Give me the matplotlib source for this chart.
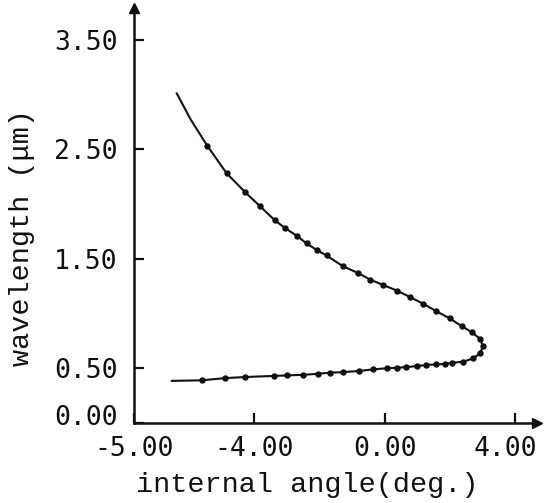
import matplotlib
matplotlib.use("Agg")
import matplotlib.pyplot as plt
from matplotlib.transforms import ScaledTranslation

# measured curve, bottom-left end -> tip -> top-left end
angle_deg = [-6.53, -5.61, -4.90, -4.29, -3.40, -2.99, -2.50, -2.04, -1.68,
             -1.28, -0.79, -0.36, 0.05, 0.36, 0.64, 0.97, 1.27, 1.56, 1.84,
             2.07, 2.40, 2.70, 2.91, 3.01, 2.91, 2.66, 2.35, 1.99, 1.58, 1.17,
             0.77, 0.36, -0.05, -0.46, -0.82, -1.28, -1.79, -2.09, -2.40,
             -2.70, -3.06, -3.37, -3.83, -4.29, -4.85, -5.44, -5.95, -6.38]
wavelength_um = [0.385, 0.39, 0.41, 0.42, 0.43, 0.435, 0.44, 0.45, 0.46,
                 0.465, 0.475, 0.49, 0.50, 0.505, 0.51, 0.52, 0.53, 0.535, 0.54,
                 0.55, 0.56, 0.59, 0.635, 0.70, 0.77, 0.83, 0.885, 0.955, 1.02,
                 1.09, 1.15, 1.21, 1.26, 1.31, 1.37, 1.43, 1.53, 1.58, 1.64,
                 1.71, 1.78, 1.85, 1.98, 2.11, 2.28, 2.53, 2.77, 3.01]

xticks = [-4.0, 0.0, 4.0]
xtick_labels = ["-4.00", "0.00", "4.00"]
yticks = [0.0, 0.5, 1.5, 2.5, 3.5]
ytick_labels = ["0.00", "0.50", "1.50", "2.50", "3.50"]
x_origin_label = "-5.00"

XMIN, XMAX = -7.69, 4.66
YMIN, YMAX = 0.0, 3.79
INK = "#111111"

fig = plt.figure(figsize=(5.45, 5.03), dpi=100)
ax = fig.add_axes([0.2459, 0.1590, 0.7394, 0.8251])

# curve with dots (endpoints have no dot)
ax.plot(angle_deg, wavelength_um, color=INK, linewidth=1.5,
        marker="o", markersize=3.6, markevery=list(range(1, len(angle_deg) - 2)))

ax.set_xlim(XMIN, XMAX)
ax.set_ylim(YMIN, YMAX)

for side in ("top", "right"):
    ax.spines[side].set_visible(False)
for side in ("left", "bottom"):
    ax.spines[side].set_linewidth(1.8)
    ax.spines[side].set_color(INK)

# arrow heads on the axes
ax.plot([1.0], [0.0], marker=">", markersize=7, color=INK,
        transform=ax.transAxes, clip_on=False)
ax.plot([0.0], [1.0], marker="^", markersize=7, color=INK,
        transform=ax.transAxes, clip_on=False)

tick_font = {"family": "DejaVu Sans Mono", "size": 19}
ax.set_xticks([XMIN] + xticks)
ax.set_xticklabels([x_origin_label] + xtick_labels, fontdict=tick_font, color=INK)
ax.set_yticks(yticks)
ax.set_yticklabels(ytick_labels, fontdict=tick_font, color=INK)
ax.tick_params(axis="both", direction="in", length=7, width=1.6, color=INK)
ax.tick_params(axis="x", pad=9)
ax.tick_params(axis="y", pad=12)

# small nudges as in the original print
ylabels = ax.get_yticklabels()
ylabels[0].set_transform(ylabels[0].get_transform()
                         + ScaledTranslation(0, 6 / 72, fig.dpi_scale_trans))
xlabels = ax.get_xticklabels()
xlabels[-1].set_transform(xlabels[-1].get_transform()
                          + ScaledTranslation(-7 / 72, 0, fig.dpi_scale_trans))

label_font = {"family": "Liberation Mono", "size": 20.5}
ax.set_xlabel("internal angle(deg.)", fontdict=label_font, color=INK)
ax.set_ylabel("wavelength (\u03bcm)", fontdict=label_font, color=INK)
ax.xaxis.set_label_coords(0.429, -0.149)
ax.xaxis.label.set_verticalalignment("center")
ax.yaxis.set_label_coords(-0.278, 0.448)
ax.yaxis.label.set_verticalalignment("center")

fig.savefig("out.png", dpi=100)
